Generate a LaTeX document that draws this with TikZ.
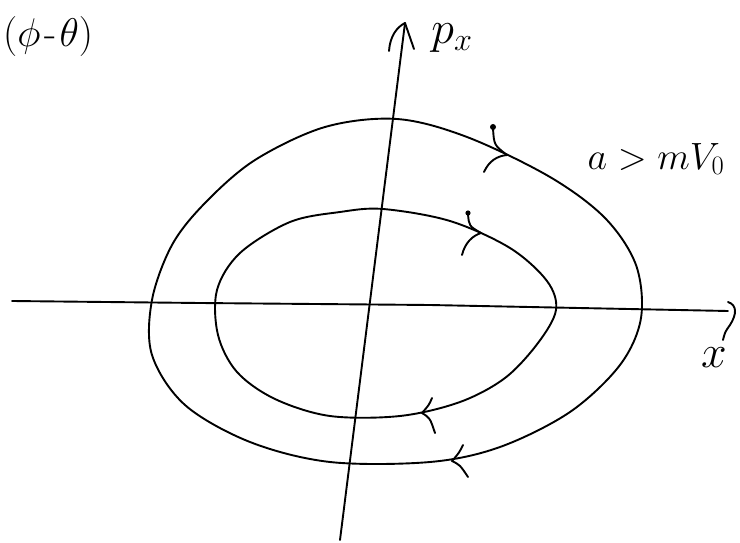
\RequirePackage{fix-cm}
\documentclass[tikz,border=0pt]{standalone}
\usepackage{amsmath,amssymb}
\usepackage{tikz}

\begin{document}
\begin{tikzpicture}[x=1pt,y=-1pt,
  hand/.style={line width=1.9pt,line cap=round,line join=round},
  lbl/.style={inner sep=0pt,font=\fontsize{46}{50}\selectfont}]
\useasboundingbox (0,0) rectangle (740,543);
% axes
\draw[hand] (12,301) -- (200,303) -- (430,305) -- (728,311);
\draw[hand] (728,302) .. controls (737,305) and (737,314) .. (730,325) .. controls (725,332) .. (723,340);
\draw[hand] (340,540) -- (405,23);
\draw[hand] (389,51) .. controls (390,36) and (397,27) .. (405,23) -- (414,49);
\node[lbl] at (452,38) {$p_x$};
\node[lbl] at (714,358) {$x$};
% outer orbit
\draw[hand] plot[smooth cycle,tension=0.55] coordinates {
  (397,119) (467,137) (550,177) (605,218) (636,265) (641,318)
  (620,365) (570,412) (500,447) (430,462) (330,462) (250,442)
  (185,405) (152,355) (152,300) (172,245) (205,203) (255,160) (325,127)};
% inner orbit
\draw[hand] plot[smooth cycle,tension=0.55] coordinates {
  (383,209) (450,221) (510,248) (547,281) (556,310) (538,343)
  (505,378) (460,402) (400,416) (330,416) (275,399) (237,372)
  (218,335) (217,290) (240,253) (290,222) (340,212)};
% direction marks
\draw[hand] (493,128) .. controls (494,145) .. (507,155);
\fill (493,127) circle (3);
\draw[hand] (484,172) .. controls (489,161) and (497,156) .. (507,155);
\draw[hand] (468,214) .. controls (469,226) .. (481,233);
\fill (468,213) circle (2.6);
\draw[hand] (462,255) .. controls (465,243) and (472,236) .. (481,233);
\draw[hand] (432,398) .. controls (429,405) .. (422,413) .. controls (430,418) .. (435,433);
\draw[hand] (463,445) .. controls (459,453) .. (452,461) .. controls (460,465) .. (468,477);
% labels
\node[lbl,font=\fontsize{38}{44}\selectfont] at (656,159) {$a > mV_0$};
\node[lbl,anchor=west,font=\fontsize{40}{44}\selectfont] at (3,37) {$(\phi$\hspace{4pt}-\hspace{3pt}$\theta)$};
\end{tikzpicture}
\end{document}
